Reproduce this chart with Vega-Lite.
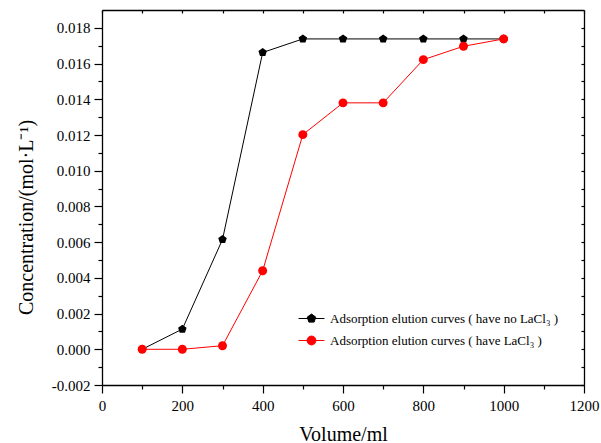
{
  "$schema": "https://vega.github.io/schema/vega-lite/v6.json",
  "autosize": {"type": "none"},
  "padding": {"left": 102, "top": 10, "right": 17, "bottom": 58},
  "width": 482,
  "height": 375,
  "config": {
    "font": "Liberation Serif",
    "view": {"stroke": null},
    "axis": {"domainColor": "black", "tickColor": "black", "labelColor": "black", "titleColor": "black", "grid": false, "domainWidth": 1.3, "tickWidth": 1.2, "labelFont": "Liberation Serif", "titleFont": "Liberation Serif", "titleFontWeight": "normal"}
  },
  "data": {
    "values": [
      {"series": "Adsorption elution curves ( have no LaCl₃ )", "volume": 100, "conc": 0.0},
      {"series": "Adsorption elution curves ( have no LaCl₃ )", "volume": 200, "conc": 0.00113},
      {"series": "Adsorption elution curves ( have no LaCl₃ )", "volume": 300, "conc": 0.00615},
      {"series": "Adsorption elution curves ( have no LaCl₃ )", "volume": 400, "conc": 0.01662},
      {"series": "Adsorption elution curves ( have no LaCl₃ )", "volume": 500, "conc": 0.01738},
      {"series": "Adsorption elution curves ( have no LaCl₃ )", "volume": 600, "conc": 0.01738},
      {"series": "Adsorption elution curves ( have no LaCl₃ )", "volume": 700, "conc": 0.01738},
      {"series": "Adsorption elution curves ( have no LaCl₃ )", "volume": 800, "conc": 0.01738},
      {"series": "Adsorption elution curves ( have no LaCl₃ )", "volume": 900, "conc": 0.01738},
      {"series": "Adsorption elution curves ( have no LaCl₃ )", "volume": 1000, "conc": 0.01738},
      {"series": "Adsorption elution curves ( have LaCl₃ )", "volume": 100, "conc": 0.0},
      {"series": "Adsorption elution curves ( have LaCl₃ )", "volume": 200, "conc": 0.0},
      {"series": "Adsorption elution curves ( have LaCl₃ )", "volume": 300, "conc": 0.0002},
      {"series": "Adsorption elution curves ( have LaCl₃ )", "volume": 400, "conc": 0.0044},
      {"series": "Adsorption elution curves ( have LaCl₃ )", "volume": 500, "conc": 0.01202},
      {"series": "Adsorption elution curves ( have LaCl₃ )", "volume": 600, "conc": 0.0138},
      {"series": "Adsorption elution curves ( have LaCl₃ )", "volume": 700, "conc": 0.0138},
      {"series": "Adsorption elution curves ( have LaCl₃ )", "volume": 800, "conc": 0.01622},
      {"series": "Adsorption elution curves ( have LaCl₃ )", "volume": 900, "conc": 0.01697},
      {"series": "Adsorption elution curves ( have LaCl₃ )", "volume": 1000, "conc": 0.01738}
    ]
  },
  "resolve": {"axis": {"x": "independent", "y": "independent"}, "scale": {"shape": "independent", "fill": "independent", "stroke": "independent"}},
  "layer": [
    {
      "mark": {"type": "line", "strokeWidth": 1},
      "encoding": {
        "x": {"field": "volume", "type": "quantitative",
          "scale": {"domain": [0, 1200], "nice": false, "zero": false},
          "axis": {"orient": "bottom", "values": [0,100,200,300,400,500,600,700,800,900,1000,1100,1200],
            "labelExpr": "datum.value % 200 === 0 ? format(datum.value, 'd') : ''",
            "tickSize": {"condition": {"test": "datum.value % 200 === 100", "value": 4}, "value": 8},
            "labelFont": "Liberation Serif", "labelFontSize": 15, "labelPadding": 5, "labelFlush": false, "labelOverlap": false,
            "title": "Volume/ml", "titleFontSize": 20, "titleBaseline": "alphabetic", "titleY": 55}},
        "y": {"field": "conc", "type": "quantitative",
          "scale": {"domain": [-0.002, 0.019], "nice": false, "zero": false},
          "axis": {"orient": "left",
            "values": [-0.002,-0.001,0,0.001,0.002,0.003,0.004,0.005,0.006,0.007,0.008,0.009,0.01,0.011,0.012,0.013,0.014,0.015,0.016,0.017,0.018],
            "labelExpr": "abs(round(datum.value*1000)) % 2 === 0 ? replace(format(datum.value, '.3f'), '−', '-') : ''",
            "tickSize": {"condition": {"test": "abs(round(datum.value*1000)) % 2 === 1", "value": 4}, "value": 8},
            "labelFont": "Liberation Serif", "labelFontSize": 15, "labelPadding": 4, "labelFlush": false, "labelOverlap": false,
            "title": "Concentration/(mol·L⁻¹)", "titleFontSize": 20, "titleBaseline": "alphabetic",
            "titleAngle": 270, "titleX": -70, "titleY": 207}},
        "color": {"field": "series", "type": "nominal",
          "scale": {"domain": ["Adsorption elution curves ( have no LaCl₃ )", "Adsorption elution curves ( have LaCl₃ )"], "range": ["#000000", "#ff0000"]},
          "legend": null}
      }
    },
    {
      "mark": {"type": "point", "filled": true, "opacity": 1},
      "encoding": {
        "x": {"field": "volume", "type": "quantitative",
          "axis": {"orient": "bottom", "offset": -375, "values": [0,100,200,300,400,500,600,700,800,900,1000,1100,1200], "labels": false, "tickSize": 3, "title": null}},
        "y": {"field": "conc", "type": "quantitative",
          "axis": {"orient": "left", "offset": -482, "values": [-0.002,-0.001,0,0.001,0.002,0.003,0.004,0.005,0.006,0.007,0.008,0.009,0.01,0.011,0.012,0.013,0.014,0.015,0.016,0.017,0.018], "labels": false, "tickSize": 3, "title": null}},
        "color": {"field": "series", "type": "nominal", "legend": null},
        "shape": {"field": "series", "type": "nominal",
          "scale": {"domain": ["Adsorption elution curves ( have no LaCl₃ )", "Adsorption elution curves ( have LaCl₃ )"],
            "range": ["M0,-1L0.951,-0.309L0.588,0.809L-0.588,0.809L-0.951,-0.309Z", "circle"]},
          "legend": null},
        "size": {"value": 80}
      }
    },
    {
      "transform": [{"filter": "false"}],
      "mark": {"type": "point", "filled": true, "opacity": 1, "strokeWidth": 1},
      "encoding": {
        "x": {"field": "volume", "type": "quantitative", "axis": null},
        "y": {"field": "conc", "type": "quantitative", "axis": null},
        "fill": {"field": "series", "type": "nominal",
          "scale": {"domain": ["Adsorption elution curves ( have no LaCl₃ )", "Adsorption elution curves ( have LaCl₃ )"], "range": ["#000000", "#ff0000"]},
          "legend": {"orient": "none", "legendX": 203, "legendY": 302, "title": null, "padding": 0,
            "symbolSize": 80, "symbolStrokeWidth": 1, "labelOffset": 12, "rowPadding": 8,
            "labelFontSize": 13, "labelFont": "Liberation Serif", "labelColor": "black", "labelLimit": 400}},
        "stroke": {"field": "series", "type": "nominal",
          "scale": {"domain": ["Adsorption elution curves ( have no LaCl₃ )", "Adsorption elution curves ( have LaCl₃ )"], "range": ["#000000", "#ff0000"]},
          "legend": {"orient": "none", "legendX": 203, "legendY": 302, "title": null, "padding": 0,
            "symbolSize": 80, "symbolStrokeWidth": 1, "labelOffset": 12, "rowPadding": 8,
            "labelFontSize": 13, "labelFont": "Liberation Serif", "labelColor": "black", "labelLimit": 400}},
        "shape": {"field": "series", "type": "nominal",
          "scale": {"domain": ["Adsorption elution curves ( have no LaCl₃ )", "Adsorption elution curves ( have LaCl₃ )"],
            "range": ["M-2.9,0L2.9,0M0,-1L0.951,-0.309L0.588,0.809L-0.588,0.809L-0.951,-0.309Z", "M-2.9,0L2.9,0M1,0A1,1,0,1,1,-1,0A1,1,0,1,1,1,0Z"]},
          "legend": {"orient": "none", "legendX": 203, "legendY": 302, "title": null, "padding": 0,
            "symbolSize": 80, "symbolStrokeWidth": 1, "labelOffset": 12, "rowPadding": 8,
            "labelFontSize": 13, "labelFont": "Liberation Serif", "labelColor": "black", "labelLimit": 400}},
        "size": {"value": 80}
      }
    }
  ]
}
